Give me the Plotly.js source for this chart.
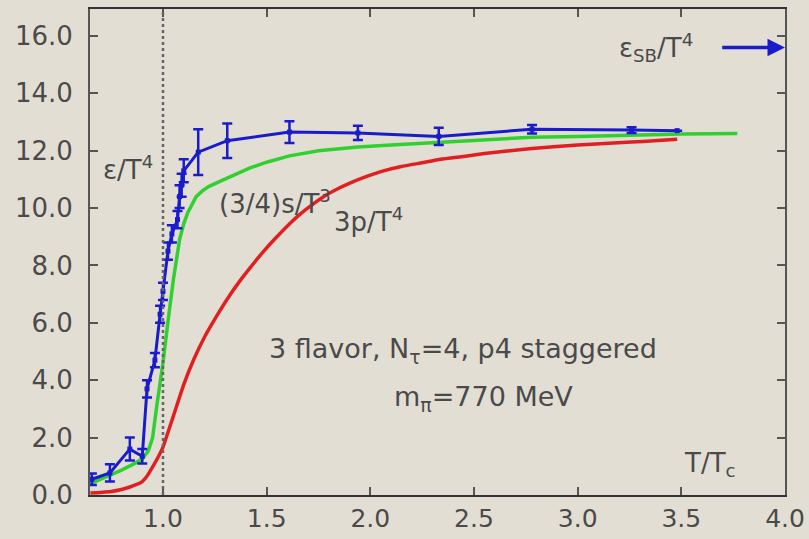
<!DOCTYPE html>
<html>
<head>
<meta charset="utf-8">
<script src="https://cdn.plot.ly/plotly-3.0.1.min.js"></script>
<style>html,body{margin:0;padding:0;background:#e3ded4;}#chart{width:809px;height:539px;}</style>
</head>
<body>
<div id="chart"></div>
<script>
// energy density eps/T^4 (lattice points with errors)
const epsT = [0.657, 0.744, 0.84, 0.90, 0.923, 0.961, 0.986, 1.0, 1.024, 1.043, 1.07, 1.08, 1.09, 1.10, 1.17, 1.31, 1.61, 1.94, 2.33, 2.78, 3.26, 3.48];
const epsV = [0.55, 0.77, 1.6, 1.35, 3.7, 4.7, 6.3, 7.1, 8.5, 9.1, 9.6, 10.4, 10.8, 11.3, 11.95, 12.35, 12.65, 12.62, 12.5, 12.75, 12.72, 12.7];
const epsErr = [0.2, 0.3, 0.4, 0.25, 0.3, 0.25, 0.3, 0.3, 0.3, 0.3, 0.3, 0.4, 0.4, 0.4, 0.8, 0.6, 0.38, 0.25, 0.3, 0.15, 0.1, 0];

// (3/4) s/T^3
const sT = [0.65, 0.70, 0.75, 0.80, 0.85, 0.90, 0.93, 0.95, 0.97, 1.0, 1.025, 1.05, 1.08, 1.10, 1.12, 1.14, 1.16, 1.19, 1.22, 1.28, 1.34, 1.42, 1.5, 1.61, 1.75, 1.94, 2.1, 2.33, 2.55, 2.78, 3.0, 3.26, 3.5, 3.77];
const sV = [0.4, 0.55, 0.7, 0.87, 1.05, 1.25, 1.55, 2.0, 3.1, 4.6, 6.1, 7.5, 8.9, 9.45, 9.85, 10.15, 10.4, 10.6, 10.75, 10.95, 11.15, 11.4, 11.6, 11.82, 12.0, 12.13, 12.2, 12.3, 12.38, 12.47, 12.5, 12.55, 12.58, 12.6];

// 3p/T^4
const pT = [0.65, 0.70, 0.75, 0.80, 0.84, 0.87, 0.90, 0.925, 0.95, 0.975, 1.0, 1.05, 1.10, 1.15, 1.20, 1.26, 1.30, 1.34, 1.38, 1.42, 1.48, 1.54, 1.6, 1.66, 1.72, 1.78, 1.85, 1.91, 1.97, 2.05, 2.15, 2.25, 2.34, 2.45, 2.55, 2.66, 2.78, 2.9, 3.0, 3.13, 3.26, 3.37, 3.48];
const pV = [0.07, 0.09, 0.12, 0.19, 0.28, 0.36, 0.47, 0.68, 0.98, 1.3, 1.67, 2.75, 3.85, 4.75, 5.5, 6.25, 6.72, 7.15, 7.55, 7.92, 8.45, 8.93, 9.38, 9.78, 10.12, 10.42, 10.7, 10.9, 11.07, 11.27, 11.45, 11.58, 11.7, 11.8, 11.9, 11.99, 12.08, 12.15, 12.2, 12.25, 12.3, 12.35, 12.4];

// Stefan-Boltzmann limit
const epsSB = 15.6;
const sbArrowStart = 3.69;
const Tc = 1.0;

const xTicks = [1.0, 1.5, 2.0, 2.5, 3.0, 3.5, 4.0];
const yTicks = [0, 2, 4, 6, 8, 10, 12, 14, 16];

const blue = '#1a1ccc', green = '#30d030', red = '#e02020';
const txt = '#4a4a4a';
const FONT = 'DejaVu Sans, Arial, sans-serif';

const traces = [
  {x: pT, y: pV, mode: 'lines', line: {color: red, width: 3.5, shape: 'spline', smoothing: 0.4}, hoverinfo: 'skip'},
  {x: sT, y: sV, mode: 'lines', line: {color: green, width: 3.5}, hoverinfo: 'skip'},
  {x: epsT, y: epsV, mode: 'lines+markers', line: {color: blue, width: 3},
   marker: {color: blue, size: 5, symbol: 'square'},
   error_y: {type: 'data', array: epsErr, visible: true, color: blue, thickness: 2.5, width: 5}}
];

const ann = (x, y, text, size) => ({x, y, xref: 'x', yref: 'y', text, showarrow: false,
  font: {family: FONT, size: size || 26, color: txt}, xanchor: 'center', yanchor: 'middle'});

const layout = {
  width: 809, height: 539,
  margin: {l: 90, r: 24, t: 9, b: 44},
  paper_bgcolor: '#e3ded4', plot_bgcolor: '#e3ded4',
  showlegend: false,
  font: {family: FONT, color: txt},
  xaxis: {range: [0.648, 4.0], tickvals: xTicks, tickformat: '.1f', ticks: 'inside', ticklen: 8, tickwidth: 2,
    tickcolor: '#555', showline: true, linecolor: '#333', linewidth: 2, mirror: 'ticks', showgrid: false, zeroline: false,
    tickfont: {family: FONT, size: 25, color: txt}, ticklabelstandoff: 0},
  yaxis: {range: [0, 16.94], tickvals: yTicks, tickformat: '.1f', ticks: 'inside', ticklen: 8, tickwidth: 2,
    tickcolor: '#555', showline: true, linecolor: '#555', linewidth: 2, mirror: 'ticks', showgrid: false, zeroline: false,
    tickfont: {family: FONT, size: 26, color: txt}, ticklabelstandoff: 10},
  shapes: [
    {type: 'line', xref: 'x', yref: 'paper', x0: Tc, x1: Tc, y0: 0, y1: 1, line: {color: '#666', width: 2.5, dash: 'dot'}}
  ],
  annotations: [
    ann(0.831, 11.4, 'ε/T<sup>4</sup>'),
    ann(1.54, 10.2, '(3/4)s/T<sup>3</sup>'),
    ann(1.99, 9.6, '3p/T<sup>4</sup>'),
    ann(2.447, 5.05, '3 flavor, N<sub>τ</sub>=4, p4 staggered', 27),
    ann(2.544, 3.38, 'm<sub>π</sub>=770 MeV', 27),
    ann(3.64, 1.05, 'T/T<sub>c</sub>'),
    ann(3.38, 15.6, 'ε<sub>SB</sub>/T<sup>4</sup>'),
    {x: 4.0, y: epsSB, xref: 'x', yref: 'y', ax: sbArrowStart, ay: epsSB, axref: 'x', ayref: 'y',
     text: '', showarrow: true, arrowhead: 2, arrowsize: 1, arrowwidth: 3.5, arrowcolor: blue}
  ]
};

Plotly.newPlot('chart', traces, layout, {displayModeBar: false, staticPlot: true});
</script>
</body>
</html>
